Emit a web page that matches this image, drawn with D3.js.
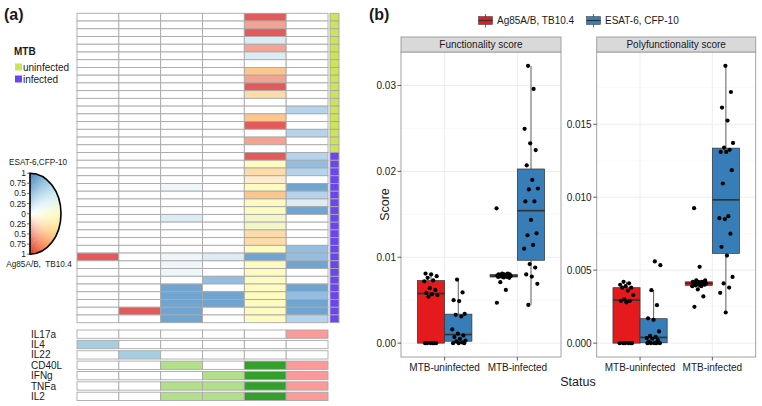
<!DOCTYPE html>
<html><head><meta charset="utf-8">
<script src="https://cdn.jsdelivr.net/npm/d3@7"></script>
<style>
body{margin:0;background:#fff}
text{font-family:"Liberation Sans",Arial,Helvetica,sans-serif;fill:#1a1a1a}
</style>
</head><body>
<svg id="c" width="762" height="406"></svg>
<script>
// ================= DATA =================
// (a) heatmap: 6 cytokine-combination columns, 40 subjects
const heatColumns = ["c1","c2","c3","c4","c5","c6"];
const mtbStatus = [
  "uninfected","uninfected","uninfected","uninfected","uninfected","uninfected",
  "uninfected","uninfected","uninfected","uninfected","uninfected","uninfected",
  "uninfected","uninfected","uninfected","uninfected","uninfected","uninfected",
  "infected","infected","infected","infected","infected","infected","infected",
  "infected","infected","infected","infected","infected","infected","infected",
  "infected","infected","infected","infected","infected","infected","infected","infected"
];
// colour level codes (r = Ag85A/B-dominant, b = ESAT-6-dominant, y/g = balanced, "" = none)
const heatRows = [
  ["","","","","r4",""],
  ["","","","","r3",""],
  ["","","","","r4",""],
  ["","","","","b1",""],
  ["","","","","r3",""],
  ["","","","","b1",""],
  ["","","","","",""],
  ["","","","","r2",""],
  ["","","","","r3",""],
  ["","","","","r4",""],
  ["","","","","r1",""],
  ["","","","","",""],
  ["","","","","","b2"],
  ["","","","","r2",""],
  ["","","","","r4",""],
  ["","","","","","b2"],
  ["","","","","r3",""],
  ["","","","","",""],
  ["","","","","r4","b2"],
  ["","","","","y","b3"],
  ["","","","","r1","b2"],
  ["","","","","r0",""],
  ["","","b0","","y","b4"],
  ["","","","","r2","b2"],
  ["","","","","y","b1"],
  ["","","","","y","b4"],
  ["","","b1","","g",""],
  ["","","","","g",""],
  ["","","","","r1",""],
  ["","","","","r1",""],
  ["","","","","y","b3"],
  ["r4","","b0","b1","b4","b3"],
  ["","","b0","","y","b4"],
  ["","","b0","","y",""],
  ["","","","b3","y",""],
  ["","","b4","","y","b4"],
  ["","","b4","b4","y","b3"],
  ["","","b4","b4","y","b4"],
  ["","r4","b4","","y","b4"],
  ["","","b4","","y","b2"]
];
const cytokines = ["IL17a","IL4","IL22","CD40L","IFNg","TNFa","IL2"];
const cytoMatrix = [
  [0,0,0,0,0,1],
  [1,0,0,0,0,0],
  [0,1,0,0,0,0],
  [0,0,1,0,1,1],
  [0,0,0,1,1,1],
  [0,0,1,1,1,1],
  [0,0,1,1,1,1]
];
const keyTicks = [-1,-0.75,-0.5,-0.25,0,0.25,0.5,0.75,1];
const keyTickLabels = ["1","0.75","0.5","0.25","0","0.25","0.5","0.75","1"];

// (b) boxplots
const statusCats = ["MTB-uninfected","MTB-infected"];
const antigens = ["Ag85A/B, TB10.4","ESAT-6, CFP-10"];
const funcAgUninf = [0,0,0,0,0,0,0.0054,0.0056,0.0057,0.00585,0.0062,0.0064,0.0072,0.0073,0.0076,0.0078,0.0080,0.0081];
const funcEsUninf = [0,0,0,0.0001,0.0002,0.0003,0.0005,0.0007,0.0009,0.0011,0.0016,0.0031,0.0033,0.0034,0.0049,0.0050,0.0059,0.0074];
const funcAgInf = [0.0047,0.0062,0.0071,0.0076,0.00765,0.0077,0.0077,0.00775,0.0078,0.0078,0.0078,0.0078,0.00785,0.0079,0.0079,0.0079,0.0080,0.0080,0.0080,0.0081,0.0081,0.0157];
const funcEsInf = [0.00445,0.0069,0.00775,0.0080,0.0088,0.0092,0.0110,0.01143,0.01256,0.01279,0.01434,0.0165,0.0165,0.0179,0.0180,0.0190,0.0207,0.02248,0.02326,0.02495,0.0296,0.03228];
const polyAgUninf = [0,0,0,0,0,0,0.0028,0.0029,0.0029,0.0030,0.0033,0.0036,0.0038,0.0038,0.0039,0.0040,0.0041,0.0042];
const polyEsUninf = [0,0,0,0,0,0.0001,0.0002,0.0003,0.00035,0.00043,0.0005,0.0008,0.0016,0.0017,0.0026,0.00363,0.00534,0.0056];
const polyAgInf = [0.00249,0.0032,0.00368,0.0039,0.0039,0.00395,0.0040,0.0040,0.0040,0.0041,0.0041,0.0041,0.0041,0.0041,0.0042,0.0042,0.0042,0.0042,0.0043,0.0043,0.00523,0.00925];
const polyEsInf = [0.0021,0.00345,0.00381,0.00409,0.00454,0.0060,0.0066,0.0075,0.0085,0.00856,0.0087,0.01094,0.01185,0.0131,0.0131,0.01325,0.0134,0.01372,0.01525,0.01614,0.01721,0.0190];
const funcTicks = [0,0.01,0.02,0.03];
const funcTickLabels = ["0.00","0.01","0.02","0.03"];
const polyTicks = [0,0.005,0.01,0.015];
const polyTickLabels = ["0.000","0.005","0.010","0.015"];

// ================= STYLES =================
const levelCodes = ["r4","r3","r2","r1","r0","y","g","b0","b1","b2","b3","b4"];
const levelHex = ["#e35a5a","#f2a391","#fdc68c","#fddca9","#feecce","#fefbc1","#f3f6c9","#eef6f9","#dcecf5","#b5d3ea","#94bde0","#70a5d2"];
const statusHex = {uninfected:"#cde45a", infected:"#6a46ee"};
const antigenHex = ["#e41a1c","#377eb8"];
const gridStroke = "#a9a9a9";

const svg = d3.select("#c");

// ---------- labels ----------
svg.append("text").attr("x",4).attr("y",20).attr("font-size",16).attr("font-weight","bold").text("(a)");
svg.append("text").attr("x",369).attr("y",20).attr("font-size",16).attr("font-weight","bold").text("(b)");

// ---------- heatmap ----------
const hx = d3.scaleBand().domain(heatColumns).range([77,328]);
const hy = d3.scaleBand().domain(d3.range(heatRows.length)).range([13.3,322.7]);
const heatColor = d3.scaleOrdinal().domain(levelCodes).range(levelHex);
const gh = svg.append("g");
heatRows.forEach((row,r)=>{
  row.forEach((code,ci)=>{
    gh.append("rect").attr("x",hx(heatColumns[ci])).attr("y",hy(r))
      .attr("width",hx.bandwidth()).attr("height",hy.bandwidth())
      .attr("fill", code ? heatColor(code) : "#fff")
      .attr("stroke",gridStroke).attr("stroke-width",0.9);
  });
  gh.append("rect").attr("x",330).attr("y",hy(r)).attr("width",9).attr("height",hy.bandwidth())
    .attr("fill",statusHex[mtbStatus[r]]).attr("stroke",gridStroke).attr("stroke-width",0.9);
});

// ---------- cytokine matrix ----------
const cy = d3.scaleBand().domain(cytokines).range([330,400.5]).paddingInner(0.2);
const paired = d3.schemePaired;
const colCounts = heatColumns.map((c,ci)=>d3.sum(cytoMatrix,row=>row[ci]));
const gm = svg.append("g");
cytokines.forEach((name,ri)=>{
  gm.append("text").attr("x",31).attr("y",cy(name)+cy.bandwidth()/2+3.6).attr("font-size",10).text(name);
  heatColumns.forEach((c,ci)=>{
    gm.append("rect").attr("x",hx(c)).attr("y",cy(name)).attr("width",hx.bandwidth()).attr("height",cy.bandwidth())
      .attr("fill", cytoMatrix[ri][ci] ? paired[colCounts[ci]-1] : "#fff")
      .attr("stroke",gridStroke).attr("stroke-width",0.9);
  });
});

// ---------- MTB legend ----------
svg.append("text").attr("x",14).attr("y",55).attr("font-size",10).attr("font-weight","bold").text("MTB");
[["uninfected",63.5],["infected",75.5]].forEach(([k,yy])=>{
  svg.append("rect").attr("x",15).attr("y",yy).attr("width",7).attr("height",7).attr("fill",statusHex[k]);
  svg.append("text").attr("x",23).attr("y",yy+7).attr("font-size",10).text(k);
});

// ---------- polar colour key ----------
const kcx = 30, kcy = 213.7, krx = 31, kry = 40.5;
const hue = d3.interpolateRgbBasis(["#d7301f","#f46d43","#fdae61","#fee090","#ffffbf","#e0f3f8","#abd9e9","#74add1","#3f7fbf"]);
const gk = svg.append("g");
const nA = 60, nR = 20;
for (let ia=0; ia<nA; ia++){
  const a0 = -Math.PI/2 + Math.PI*ia/nA, a1 = -Math.PI/2 + Math.PI*(ia+1)/nA;
  const hc = hue((ia+0.5)/nA);
  for (let ir=0; ir<nR; ir++){
    const r0 = ir/nR, r1 = (ir+1)/nR;
    const pt = (r,a)=>[kcx + krx*r*Math.cos(a), kcy - kry*r*Math.sin(a)];
    const p = [pt(r0,a0),pt(r1,a0),pt(r1,a1),pt(r0,a1)];
    const col = d3.interpolateRgb("#ffffff",hc)(Math.pow((ir+0.5)/nR,0.85));
    gk.append("path").attr("d","M"+p.map(q=>q.join(",")).join("L")+"Z")
      .attr("fill", col).attr("stroke", col).attr("stroke-width",0.4);
  }
}
gk.append("path").attr("d",`M${kcx},${kcy-kry} A${krx},${kry} 0 0 1 ${kcx},${kcy+kry} Z`)
  .attr("fill","none").attr("stroke","#000").attr("stroke-width",1.6);
const ky = d3.scaleLinear().domain([-1,1]).range([kcy+kry,kcy-kry]);
keyTicks.forEach((t,i)=>{
  gk.append("line").attr("x1",27).attr("x2",30).attr("y1",ky(t)).attr("y2",ky(t)).attr("stroke","#333").attr("stroke-width",0.7);
  gk.append("text").attr("x",26).attr("y",ky(t)+3).attr("text-anchor","end").attr("font-size",8.4).text(keyTickLabels[i]);
});
gk.append("text").attr("x",38).attr("y",165).attr("text-anchor","middle").attr("font-size",8.2).text("ESAT-6,CFP-10");
gk.append("text").attr("x",39).attr("y",266.5).attr("text-anchor","middle").attr("font-size",8.2).style("white-space","pre").text("Ag85A/B,  TB10.4");

// ---------- (b) legend ----------
const legItems = [{x:478.5, tx:497}, {x:586.5, tx:605}];
antigens.forEach((a,i)=>{
  const L = legItems[i], cxk = L.x+7;
  svg.append("line").attr("x1",cxk).attr("x2",cxk).attr("y1",14).attr("y2",27.5).attr("stroke","#333").attr("stroke-width",0.7);
  svg.append("rect").attr("x",L.x).attr("y",16.5).attr("width",14).attr("height",8).attr("fill",antigenHex[i]).attr("stroke","#333").attr("stroke-width",0.5);
  svg.append("line").attr("x1",L.x).attr("x2",L.x+14).attr("y1",20.5).attr("y2",20.5).attr("stroke","#333").attr("stroke-width",1.2);
  svg.append("text").attr("x",L.tx).attr("y",24.3).attr("font-size",10).text(a);
});

// ---------- boxplot panels ----------
function boxStats(v){
  const s = v.slice().sort(d3.ascending);
  const q1 = d3.quantileSorted(s,0.25), med = d3.quantileSorted(s,0.5), q3 = d3.quantileSorted(s,0.75);
  const iqr = q3-q1;
  return {q1,med,q3, lo:d3.min(s.filter(d=>d>=q1-1.5*iqr)), hi:d3.max(s.filter(d=>d<=q3+1.5*iqr))};
}
const panels = [
  {title:"Functionality score", x0:401, x1:561, ticks:funcTicks, labels:funcTickLabels,
   groups:[[funcAgUninf,funcEsUninf],[funcAgInf,funcEsInf]]},
  {title:"Polyfunctionality score", x0:596.7, x1:755.7, ticks:polyTicks, labels:polyTickLabels,
   groups:[[polyAgUninf,polyEsUninf],[polyAgInf,polyEsInf]]}
];
const pTop = 52, pBot = 357;
panels.forEach((P,pi)=>{
  const g = svg.append("g");
  const all = P.groups.flat(2);
  const mn = d3.min(all), mx = d3.max(all), ex = (mx-mn)*0.05;
  const y = d3.scaleLinear().domain([mn-ex, mx+ex]).range([pBot,pTop]);
  const x = d3.scalePoint().domain(statusCats).range([P.x0,P.x1]).padding(0.6);
  const step = x.step();
  g.append("rect").attr("x",P.x0).attr("y",pTop).attr("width",P.x1-P.x0).attr("height",pBot-pTop).attr("fill","#fff");
  const tstep = P.ticks[1]-P.ticks[0];
  const minor = P.ticks.map(t=>t+tstep/2).filter(t=>t<y.domain()[1]);
  minor.forEach(t=>g.append("line").attr("x1",P.x0).attr("x2",P.x1).attr("y1",y(t)).attr("y2",y(t)).attr("stroke","#f5f5f5").attr("stroke-width",0.6));
  P.ticks.forEach(t=>g.append("line").attr("x1",P.x0).attr("x2",P.x1).attr("y1",y(t)).attr("y2",y(t)).attr("stroke","#ebebeb").attr("stroke-width",0.9));
  statusCats.forEach(c=>g.append("line").attr("x1",x(c)).attr("x2",x(c)).attr("y1",pTop).attr("y2",pBot).attr("stroke","#ebebeb").attr("stroke-width",0.9));
  statusCats.forEach((c,ci)=>{
    antigens.forEach((a,ai)=>{
      const vals = P.groups[ci][ai];
      const st = boxStats(vals);
      const cx = x(c) + (ai-0.5)*0.375*step, w = 0.375*step;
      g.append("line").attr("x1",cx).attr("x2",cx).attr("y1",y(st.q3)).attr("y2",y(st.hi)).attr("stroke","#333").attr("stroke-width",0.8);
      g.append("line").attr("x1",cx).attr("x2",cx).attr("y1",y(st.q1)).attr("y2",y(st.lo)).attr("stroke","#333").attr("stroke-width",0.8);
      g.append("rect").attr("x",cx-w/2).attr("y",y(st.q3)).attr("width",w).attr("height",Math.max(0.5,y(st.q1)-y(st.q3)))
        .attr("fill",antigenHex[ai]).attr("stroke","#333").attr("stroke-width",0.7);
      g.append("line").attr("x1",cx-w/2).attr("x2",cx+w/2).attr("y1",y(st.med)).attr("y2",y(st.med)).attr("stroke","#333").attr("stroke-width",1.7);
    });
  });
  statusCats.forEach((c,ci)=>{
    antigens.forEach((a,ai)=>{
      const cx = x(c) + (ai-0.5)*0.375*step;
      P.groups[ci][ai].forEach((v,i)=>{
        const f = (((i+1)*0.618034 + ai*0.29 + ci*0.41 + pi*0.17) % 1) - 0.5;
        g.append("circle").attr("cx",cx + f*0.2*step).attr("cy",y(v)).attr("r",2.1).attr("fill","#000");
      });
    });
  });
  g.append("rect").attr("x",P.x0).attr("y",pTop).attr("width",P.x1-P.x0).attr("height",pBot-pTop)
    .attr("fill","none").attr("stroke","#999").attr("stroke-width",0.9);
  g.append("rect").attr("x",P.x0).attr("y",37).attr("width",P.x1-P.x0).attr("height",15)
    .attr("fill","#d9d9d9").attr("stroke","#999").attr("stroke-width",0.9);
  g.append("text").attr("x",(P.x0+P.x1)/2).attr("y",48.2).attr("text-anchor","middle").attr("font-size",10).text(P.title);
  P.ticks.forEach((t,i)=>{
    g.append("line").attr("x1",P.x0-3.5).attr("x2",P.x0).attr("y1",y(t)).attr("y2",y(t)).attr("stroke","#333").attr("stroke-width",0.8);
    g.append("text").attr("x",P.x0-5).attr("y",y(t)+3.6).attr("text-anchor","end").attr("font-size",10).attr("fill","#222").text(P.labels[i]);
  });
  statusCats.forEach(c=>{
    g.append("line").attr("x1",x(c)).attr("x2",x(c)).attr("y1",pBot).attr("y2",pBot+3.5).attr("stroke","#333").attr("stroke-width",0.8);
    g.append("text").attr("x",x(c)).attr("y",371).attr("text-anchor","middle").attr("font-size",10).attr("fill","#222").text(c);
  });
});
svg.append("text").attr("transform","translate(388.5,204.5) rotate(-90)").attr("text-anchor","middle").attr("font-size",12.5).text("Score");
svg.append("text").attr("x",578).attr("y",385.5).attr("text-anchor","middle").attr("font-size",12.5).text("Status");
</script>
</body></html>
